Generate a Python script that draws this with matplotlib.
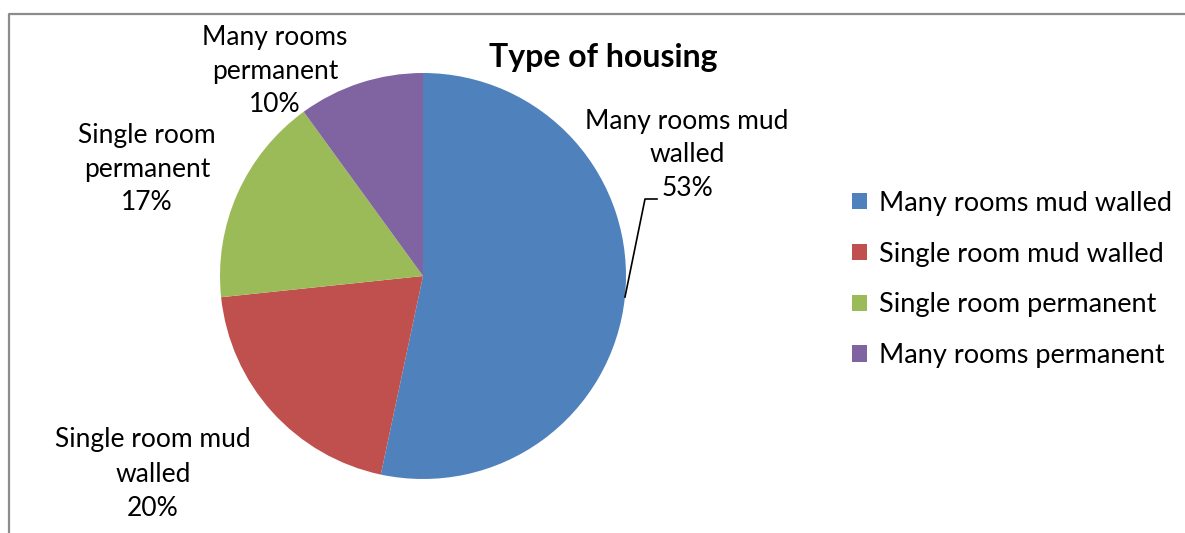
import matplotlib.pyplot as plt
from matplotlib.lines import Line2D

plt.rcParams['font.family'] = ['Lato', 'DejaVu Sans']

categories = ['Many rooms mud walled', 'Single room mud walled',
              'Single room permanent', 'Many rooms permanent']
slice_labels = ['Many rooms mud\nwalled', 'Single room mud\nwalled',
                'Single room\npermanent', 'Many rooms\npermanent']
households = [32, 12, 10, 6]
colors = ['#4F81BD', '#C0504D', '#9BBB59', '#8064A2']

total = sum(households)
W, H = 1185, 533
fig = plt.figure(figsize=(W / 100, H / 100), dpi=100)

# pie centre and radius in pixels
cx, cy, r = 423, 276, 203
ax = fig.add_axes([(cx - r) / W, (H - cy - r) / H, 2 * r / W, 2 * r / H])
labels = [f'{l}\n{v / total * 100:.0f}%' for l, v in zip(slice_labels, households)]
wedges, texts = ax.pie(households, colors=colors, startangle=90, counterclock=False,
                       labels=labels,
                       textprops=dict(fontsize=19, ha='center', va='center',
                                      linespacing=1.45))
ax.set_xlim(-1, 1)
ax.set_ylim(-1, 1)
ax.set_aspect('equal')
ax.axis('off')

# label spots picked to match the Excel "best fit" layout
spots = [(687, 155), (153, 474), (147, 169), (275, 71)]
for t, (px, py) in zip(texts, spots):
    t.set_position(((px - cx) / r, (cy - py) / r))
    t.set_ha('center')

# leader line for the big slice
ax.plot([(625 - cx) / r, (645 - cx) / r, (657 - cx) / r],
        [(cy - 297) / r, (cy - 199) / r, (cy - 199) / r],
        color='black', lw=1.2, clip_on=False)

fig.text(603 / W, 1 - 57 / H, 'Type of housing', fontsize=23, fontweight='bold',
         ha='center', va='center')

fig.legend(wedges, categories, loc='center left', bbox_to_anchor=(852 / W, 1 - 279.5 / H),
           frameon=False, fontsize=19.5, handlelength=0.55, handleheight=0.55,
           handletextpad=0.45, labelspacing=0.95, borderpad=0, borderaxespad=0)

# chart frame (left and top edges only visible)
fy = 1 - 13.5 / H
fx = 8.5 / W
fig.add_artist(Line2D([fx, fx, 1], [0, fy, fy], color='#8c8c8c', lw=1.6,
                      transform=fig.transFigure))

fig.savefig('out.png', dpi=100)
